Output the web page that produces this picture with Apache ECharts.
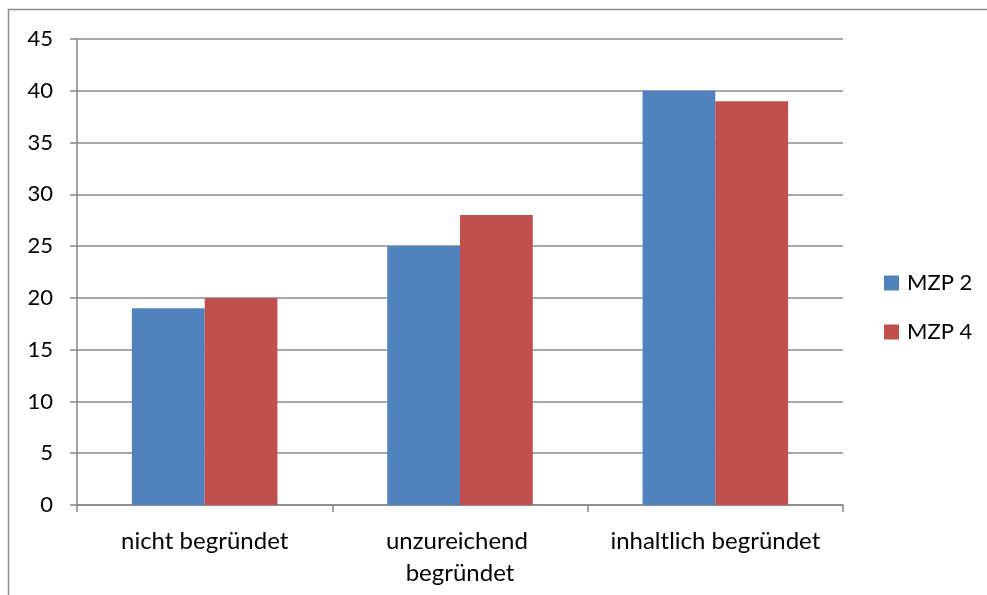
<!DOCTYPE html>
<html><head><meta charset="utf-8">
<script src="https://cdn.jsdelivr.net/npm/echarts@6/dist/echarts.min.js"></script>
<style>html,body{margin:0;padding:0;background:#fff}#c{width:987px;height:595px}</style>
</head><body><div id="c"></div>
<script>
const categories = ['nicht begründet', 'unzureichend begründet', 'inhaltlich begründet'];
const mzp2 = [19, 25, 40];
const mzp4 = [20, 28, 39];
const seriesNames = ['MZP 2', 'MZP 4'];
const yTicks = [0, 5, 10, 15, 20, 25, 30, 35, 40, 45];

const font = 'Lato, "Open Sans", sans-serif';
const chart = echarts.init(document.getElementById('c'));
chart.setOption({
  animation: false,
  graphic: [{type: 'rect', shape: {x: 8.5, y: 9.5, width: 1000, height: 600}, style: {fill: 'none', stroke: '#8c8c8c', lineWidth: 1.5}, z: -1}],
  grid: {left: 77, top: 39, right: 144, bottom: 90, containLabel: false},
  legend: {
    orient: 'vertical', left: 879, top: 267, itemWidth: 15, itemHeight: 15, itemGap: 27,
    icon: 'rect', data: seriesNames,
    textStyle: {fontFamily: font, fontSize: 22, color: '#000', padding: [0, 0, 0, 3]}
  },
  xAxis: {
    type: 'category', data: categories,
    axisLine: {lineStyle: {color: '#868686', width: 1.5}},
    axisTick: {show: true, length: 7, lineStyle: {color: '#868686', width: 1.5}},
    axisLabel: {fontFamily: font, fontSize: 24, color: '#000', margin: 20, lineHeight: 32, width: 235, overflow: 'break', interval: 0}
  },
  yAxis: {
    type: 'value', min: 0, max: yTicks[yTicks.length - 1], interval: 5,
    axisLine: {show: true, lineStyle: {color: '#868686', width: 1.5}},
    axisTick: {show: true, length: 7, lineStyle: {color: '#868686', width: 1.5}},
    splitLine: {lineStyle: {color: '#8c8c8c', width: 1.5}},
    axisLabel: {fontFamily: font, fontSize: 22, color: '#000', margin: 24}
  },
  series: [
    {name: seriesNames[0], type: 'bar', data: mzp2, barGap: '0%', barCategoryGap: '43%', itemStyle: {color: '#4f81bd'}},
    {name: seriesNames[1], type: 'bar', data: mzp4, barGap: '0%', barCategoryGap: '43%', itemStyle: {color: '#c0504d'}}
  ]
});
</script></body></html>
